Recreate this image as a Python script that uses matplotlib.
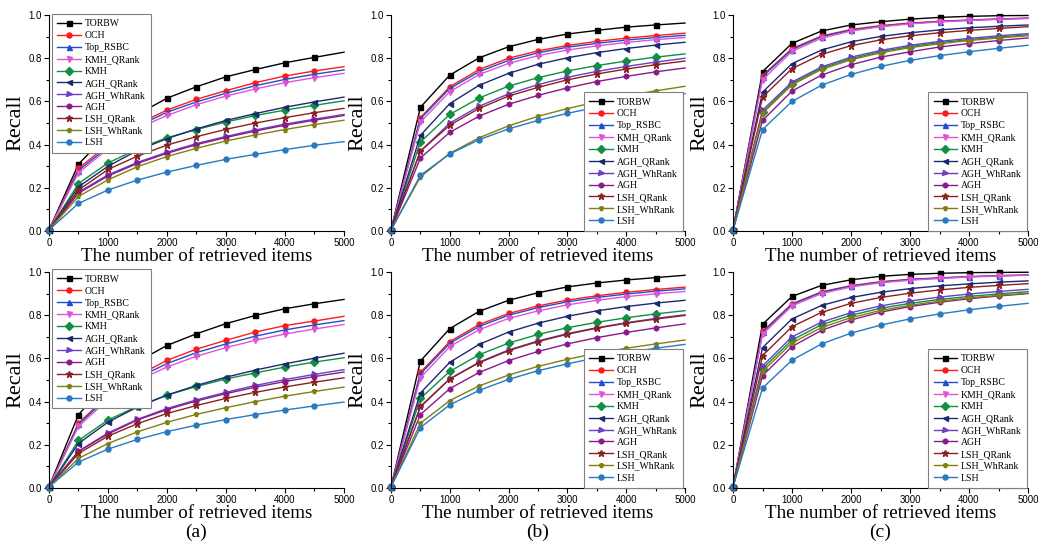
import matplotlib
matplotlib.use("Agg")
import matplotlib.pyplot as plt
from matplotlib.ticker import MultipleLocator, FormatStrFormatter

# retrieved items (x axis), one point every 500
ITEMS = [0, 500, 1000, 1500, 2000, 2500, 3000, 3500, 4000, 4500, 5000]

METHODS = ["TORBW", "OCH", "Top_RSBC", "KMH_QRank", "KMH", "AGH_QRank",
           "AGH_WhRank", "AGH", "LSH_QRank", "LSH_WhRank", "LSH"]

# recall curves, one row per method (same order as METHODS)
RECALL_TOP_A = [
    [0.005, 0.31, 0.45, 0.54, 0.615, 0.668, 0.714, 0.748, 0.779, 0.804, 0.828],
    [0.005, 0.29, 0.40, 0.495, 0.56, 0.61, 0.65, 0.687, 0.718, 0.741, 0.761],
    [0.005, 0.28, 0.39, 0.485, 0.55, 0.598, 0.638, 0.673, 0.702, 0.726, 0.746],
    [0.005, 0.27, 0.38, 0.475, 0.535, 0.585, 0.625, 0.658, 0.687, 0.710, 0.730],
    [0.005, 0.22, 0.315, 0.38, 0.432, 0.47, 0.505, 0.535, 0.56, 0.582, 0.603],
    [0.005, 0.205, 0.30, 0.373, 0.428, 0.473, 0.512, 0.544, 0.573, 0.598, 0.62],
    [0.005, 0.18, 0.26, 0.318, 0.365, 0.405, 0.438, 0.468, 0.495, 0.518, 0.54],
    [0.005, 0.175, 0.255, 0.313, 0.36, 0.40, 0.433, 0.463, 0.49, 0.513, 0.535],
    [0.005, 0.19, 0.285, 0.347, 0.398, 0.437, 0.471, 0.50, 0.525, 0.548, 0.568],
    [0.005, 0.16, 0.237, 0.298, 0.345, 0.383, 0.417, 0.445, 0.47, 0.493, 0.513],
    [0.005, 0.128, 0.19, 0.236, 0.273, 0.304, 0.332, 0.355, 0.377, 0.397, 0.414],
]

RECALL_TOP_B = [
    [0.005, 0.573, 0.722, 0.802, 0.853, 0.887, 0.912, 0.929, 0.944, 0.954, 0.963],
    [0.005, 0.525, 0.668, 0.748, 0.80, 0.834, 0.859, 0.878, 0.893, 0.905, 0.916],
    [0.005, 0.52, 0.66, 0.738, 0.79, 0.825, 0.851, 0.869, 0.884, 0.896, 0.906],
    [0.005, 0.505, 0.645, 0.725, 0.776, 0.812, 0.838, 0.857, 0.873, 0.886, 0.896],
    [0.005, 0.412, 0.54, 0.616, 0.671, 0.71, 0.741, 0.766, 0.787, 0.805, 0.82],
    [0.005, 0.443, 0.59, 0.675, 0.73, 0.772, 0.802, 0.826, 0.845, 0.861, 0.874],
    [0.005, 0.37, 0.50, 0.578, 0.635, 0.678, 0.712, 0.739, 0.762, 0.782, 0.80],
    [0.005, 0.338, 0.457, 0.532, 0.587, 0.628, 0.663, 0.692, 0.716, 0.737, 0.755],
    [0.005, 0.37, 0.49, 0.568, 0.625, 0.665, 0.70, 0.727, 0.75, 0.77, 0.787],
    [0.005, 0.25, 0.36, 0.432, 0.487, 0.531, 0.567, 0.598, 0.626, 0.649, 0.67],
    [0.005, 0.258, 0.357, 0.423, 0.473, 0.512, 0.545, 0.573, 0.598, 0.618, 0.636],
]

RECALL_TOP_C = [
    [0.005, 0.738, 0.869, 0.926, 0.954, 0.969, 0.981, 0.989, 0.994, 0.997, 0.998],
    [0.005, 0.72, 0.845, 0.903, 0.933, 0.951, 0.963, 0.971, 0.977, 0.982, 0.986],
    [0.005, 0.715, 0.84, 0.90, 0.93, 0.948, 0.961, 0.970, 0.976, 0.981, 0.985],
    [0.005, 0.70, 0.832, 0.893, 0.926, 0.946, 0.959, 0.968, 0.975, 0.980, 0.984],
    [0.005, 0.55, 0.683, 0.754, 0.798, 0.83, 0.854, 0.872, 0.886, 0.898, 0.908],
    [0.005, 0.643, 0.775, 0.838, 0.876, 0.901, 0.918, 0.931, 0.941, 0.948, 0.954],
    [0.005, 0.56, 0.69, 0.76, 0.805, 0.836, 0.86, 0.878, 0.892, 0.904, 0.914],
    [0.005, 0.512, 0.648, 0.722, 0.77, 0.805, 0.83, 0.852, 0.868, 0.882, 0.894],
    [0.005, 0.62, 0.752, 0.818, 0.858, 0.885, 0.904, 0.918, 0.929, 0.938, 0.946],
    [0.005, 0.545, 0.677, 0.748, 0.793, 0.825, 0.849, 0.867, 0.882, 0.894, 0.904],
    [0.005, 0.47, 0.60, 0.675, 0.725, 0.762, 0.79, 0.812, 0.83, 0.846, 0.86],
]

RECALL_BOT_A = [
    [0.005, 0.34, 0.49, 0.585, 0.66, 0.714, 0.761, 0.799, 0.83, 0.853, 0.873],
    [0.005, 0.30, 0.43, 0.52, 0.591, 0.643, 0.684, 0.722, 0.752, 0.773, 0.795],
    [0.005, 0.295, 0.42, 0.51, 0.576, 0.627, 0.667, 0.703, 0.732, 0.755, 0.775],
    [0.005, 0.285, 0.41, 0.497, 0.56, 0.61, 0.65, 0.684, 0.713, 0.736, 0.757],
    [0.005, 0.22, 0.315, 0.378, 0.43, 0.47, 0.505, 0.533, 0.56, 0.583, 0.603],
    [0.005, 0.206, 0.305, 0.375, 0.43, 0.475, 0.513, 0.546, 0.575, 0.601, 0.624],
    [0.005, 0.17, 0.255, 0.318, 0.368, 0.408, 0.443, 0.475, 0.502, 0.526, 0.548],
    [0.005, 0.17, 0.25, 0.315, 0.363, 0.403, 0.437, 0.467, 0.493, 0.516, 0.537],
    [0.005, 0.16, 0.24, 0.298, 0.345, 0.382, 0.415, 0.443, 0.468, 0.49, 0.51],
    [0.005, 0.137, 0.206, 0.26, 0.304, 0.341, 0.372, 0.40, 0.425, 0.447, 0.467],
    [0.005, 0.12, 0.18, 0.225, 0.261, 0.291, 0.317, 0.34, 0.361, 0.38, 0.398],
]

RECALL_BOT_B = [
    [0.005, 0.588, 0.738, 0.818, 0.869, 0.904, 0.931, 0.949, 0.963, 0.974, 0.985],
    [0.005, 0.535, 0.678, 0.757, 0.808, 0.843, 0.87, 0.89, 0.906, 0.919, 0.93],
    [0.005, 0.528, 0.67, 0.748, 0.80, 0.835, 0.862, 0.882, 0.898, 0.911, 0.922],
    [0.005, 0.51, 0.655, 0.733, 0.785, 0.82, 0.848, 0.869, 0.886, 0.899, 0.91],
    [0.005, 0.415, 0.54, 0.617, 0.671, 0.711, 0.742, 0.767, 0.788, 0.806, 0.821],
    [0.005, 0.44, 0.582, 0.665, 0.722, 0.763, 0.795, 0.82, 0.84, 0.856, 0.869],
    [0.005, 0.375, 0.505, 0.583, 0.639, 0.681, 0.715, 0.742, 0.765, 0.785, 0.802],
    [0.005, 0.34, 0.46, 0.535, 0.59, 0.632, 0.667, 0.696, 0.72, 0.741, 0.76],
    [0.005, 0.378, 0.505, 0.58, 0.636, 0.678, 0.712, 0.74, 0.763, 0.782, 0.799],
    [0.005, 0.30, 0.405, 0.473, 0.523, 0.563, 0.596, 0.624, 0.647, 0.667, 0.685],
    [0.005, 0.28, 0.385, 0.452, 0.503, 0.543, 0.575, 0.603, 0.626, 0.647, 0.665],
]

RECALL_BOT_C = [
    [0.005, 0.758, 0.887, 0.938, 0.964, 0.98, 0.989, 0.994, 0.997, 0.998, 0.999],
    [0.005, 0.725, 0.853, 0.908, 0.937, 0.955, 0.966, 0.973, 0.979, 0.983, 0.986],
    [0.005, 0.72, 0.85, 0.906, 0.935, 0.953, 0.965, 0.972, 0.978, 0.983, 0.986],
    [0.005, 0.712, 0.843, 0.90, 0.931, 0.95, 0.962, 0.97, 0.977, 0.981, 0.985],
    [0.005, 0.553, 0.685, 0.756, 0.80, 0.832, 0.855, 0.873, 0.887, 0.899, 0.909],
    [0.005, 0.65, 0.783, 0.845, 0.882, 0.906, 0.923, 0.936, 0.945, 0.953, 0.959],
    [0.005, 0.565, 0.70, 0.768, 0.812, 0.843, 0.866, 0.884, 0.898, 0.91, 0.92],
    [0.005, 0.52, 0.655, 0.73, 0.778, 0.814, 0.84, 0.86, 0.876, 0.889, 0.90],
    [0.005, 0.613, 0.747, 0.813, 0.855, 0.882, 0.902, 0.917, 0.929, 0.938, 0.946],
    [0.005, 0.54, 0.672, 0.743, 0.789, 0.822, 0.846, 0.865, 0.88, 0.892, 0.902],
    [0.005, 0.463, 0.592, 0.667, 0.717, 0.754, 0.783, 0.806, 0.825, 0.841, 0.855],
]

PANEL_LABELS = ["(a)", "(b)", "(c)"]

COLORS = ["#000000", "#FF1A1A", "#1E4FC8", "#E055D5", "#109040", "#1C2A70",
          "#6A40C0", "#8A1A8A", "#8B2020", "#808010", "#2A7ABF"]
MARKERS = ["s", "o", "^", "v", "D", "<", ">", "h", "*", "p", "o"]

SERIF = "Liberation Serif"
SANS = "Liberation Sans"

# axes boxes in figure fractions: (left, bottom, width, height)
COL_LEFT = [0.0472, 0.3767, 0.7062]
COL_WIDTH = [0.2842, 0.2832, 0.2842]
ROW_BOTTOM = [0.5761, 0.1046]
ROW_HEIGHT = 0.3963

# legend anchors per panel (axes coords)
LEGEND_SPOTS = [
    [("upper left", (0.01, 1.005)), ("lower right", (0.993, 0.0)), ("lower right", (0.997, 0.0))],
    [("upper left", (0.01, 1.012)), ("lower right", (0.993, 0.0)), ("lower right", (0.997, 0.0))],
]


def draw_panel(ax, curves, legend_loc, legend_anchor):
    for name, ys, col, mk in zip(METHODS, curves, COLORS, MARKERS):
        ax.plot(ITEMS, ys, color=col, marker=mk, markersize=3.6 if mk != "*" else 5.0,
                markevery=slice(0, 10), linewidth=1.0, label=name, clip_on=False)

    ax.set_xlim(0, 5000)
    ax.set_ylim(0, 1.0)
    ax.xaxis.set_major_locator(MultipleLocator(1000))
    ax.xaxis.set_minor_locator(MultipleLocator(500))
    ax.yaxis.set_major_locator(MultipleLocator(0.2))
    ax.yaxis.set_minor_locator(MultipleLocator(0.1))
    ax.yaxis.set_major_formatter(FormatStrFormatter("%.1f"))
    ax.spines["top"].set_visible(False)
    ax.spines["right"].set_visible(False)
    ax.tick_params(which="both", direction="out", width=0.8)
    ax.tick_params(which="major", length=3.5, labelsize=7, pad=1.5)
    ax.tick_params(which="minor", length=2)
    for lbl in ax.get_xticklabels() + ax.get_yticklabels():
        lbl.set_family(SANS)

    ax.set_xlabel("The number of retrieved items", family=SERIF, fontsize=13.7, labelpad=0)
    ax.set_ylabel("Recall", family=SERIF, fontsize=16, labelpad=2)

    leg = ax.legend(loc=legend_loc, bbox_to_anchor=legend_anchor, borderaxespad=0.,
                    prop={"family": SERIF, "size": 7}, fancybox=False, framealpha=1,
                    edgecolor="#808080", handlelength=2.4, handletextpad=0.4,
                    labelspacing=0.3, borderpad=0.55)
    leg.get_frame().set_linewidth(0.8)


fig = plt.figure(figsize=(10.38, 5.45), dpi=100)

all_curves = [[RECALL_TOP_A, RECALL_TOP_B, RECALL_TOP_C],
              [RECALL_BOT_A, RECALL_BOT_B, RECALL_BOT_C]]

for r in range(2):
    for c in range(3):
        ax = fig.add_axes([COL_LEFT[c], ROW_BOTTOM[r], COL_WIDTH[c], ROW_HEIGHT])
        loc, anchor = LEGEND_SPOTS[r][c]
        draw_panel(ax, all_curves[r][c], loc, anchor)
        if r == 1:
            ax.text(0.5, -0.205, PANEL_LABELS[c], transform=ax.transAxes,
                    ha="center", va="center", family=SERIF, fontsize=14)

fig.savefig("out.png", dpi=100)
